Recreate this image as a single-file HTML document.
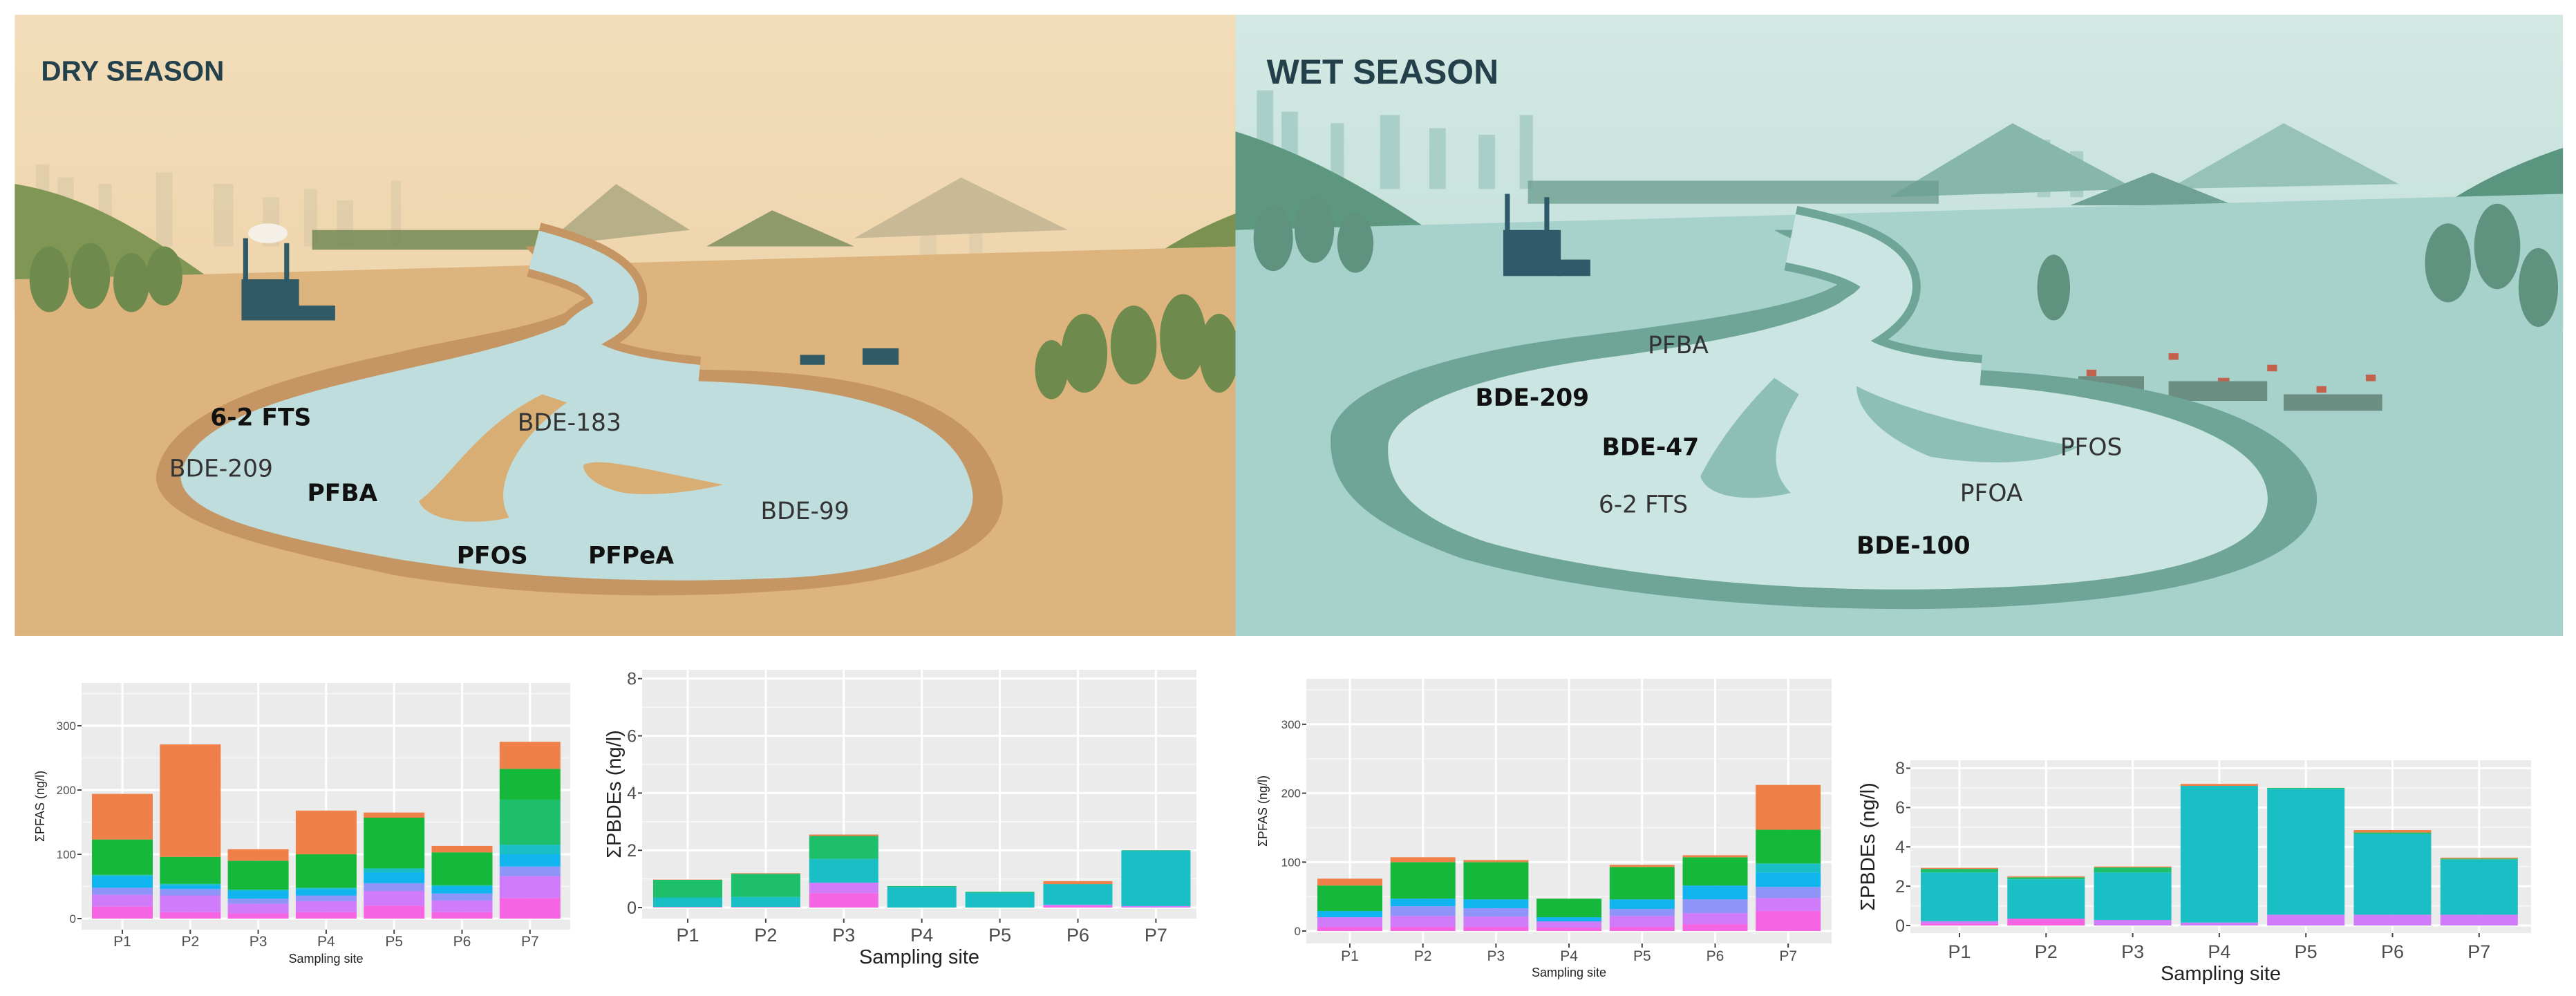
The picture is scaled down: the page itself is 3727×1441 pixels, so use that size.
<!DOCTYPE html>
<html><head><meta charset="utf-8">
<style>
html,body{margin:0;padding:0;background:#fff;}
svg{display:block;font-family:"Liberation Sans",sans-serif;}
</style></head>
<body>
<svg id="root" width="3727" height="1441" viewBox="0 0 3727 1441">
<defs>
<linearGradient id="drySky" x1="0" y1="0" x2="0" y2="1"><stop offset="0" stop-color="#F2DDBA"/><stop offset="1" stop-color="#E9CB9C"/></linearGradient>
<linearGradient id="wetSky" x1="0" y1="0" x2="0" y2="1"><stop offset="0" stop-color="#D3E8E3"/><stop offset="1" stop-color="#B4D8D2"/></linearGradient>
</defs>
<g transform="scale(2.377)">
 <!-- DRY PANEL -->
 <g>
  <rect x="9" y="9" width="743" height="378" fill="url(#drySky)"/>
  <g fill="#E0CDAA" opacity="0.9">
   <rect x="22" y="100" width="8" height="50"/><rect x="35" y="108" width="10" height="42"/><rect x="60" y="112" width="8" height="38"/><rect x="95" y="105" width="10" height="45"/><rect x="130" y="112" width="12" height="38"/><rect x="160" y="120" width="10" height="30"/><rect x="185" y="115" width="8" height="35"/><rect x="205" y="122" width="10" height="28"/><rect x="238" y="110" width="6" height="40"/><rect x="560" y="135" width="10" height="20"/><rect x="590" y="132" width="8" height="25"/>
  </g>
  <path d="M330,150 L375,112 L420,140 Z" fill="#B7AF88"/>
  <path d="M520,145 L585,108 L650,140 Z" fill="#C9B996"/>
  <path d="M430,150 L470,128 L520,150 Z" fill="#8E9A6A"/>
  <path d="M9,112 C60,120 100,150 140,178 L9,190 Z" fill="#7F9654"/>
  <path d="M752,130 C700,150 670,180 640,210 L752,240 Z" fill="#7A9152"/>
  <rect x="190" y="140" width="140" height="12" fill="#6D8650" opacity="0.8"/>
  <path d="M9,170 L752,150 L752,387 L9,387 Z" fill="#DDB47D"/>
  <g fill="#6E8A4C">
   <ellipse cx="30" cy="170" rx="12" ry="20"/><ellipse cx="55" cy="168" rx="12" ry="20"/><ellipse cx="80" cy="172" rx="11" ry="18"/><ellipse cx="100" cy="168" rx="11" ry="18"/>
   <ellipse cx="660" cy="215" rx="14" ry="24"/><ellipse cx="690" cy="210" rx="14" ry="24"/><ellipse cx="720" cy="205" rx="14" ry="26"/><ellipse cx="742" cy="215" rx="12" ry="24"/><ellipse cx="640" cy="225" rx="10" ry="18"/>
  </g>
  <g fill="#2F5A66">
   <rect x="147" y="170" width="35" height="25"/><rect x="148" y="145" width="3" height="28"/><rect x="173" y="148" width="3" height="25"/><rect x="180" y="186" width="24" height="9"/>
   <rect x="525" y="212" width="22" height="10"/><rect x="487" y="216" width="15" height="6"/>
  </g>
  <ellipse cx="163" cy="142" rx="12" ry="6" fill="#F4F0E8"/>
  <path d="M95,290 C100,250 170,230 240,215 C280,205 330,200 355,185 C370,175 330,165 320,150 L340,150 C375,165 390,180 370,195 C340,215 360,225 420,225 C520,225 600,240 610,300 C615,335 560,355 470,360 C380,366 300,360 240,350 C170,335 95,320 95,290 Z" fill="#C59663"/>
  <path d="M325,152 C375,165 392,182 362,198 C335,214 362,228 425,234" fill="none" stroke="#C59663" stroke-width="34"/>
  <path d="M110,290 C115,255 180,240 245,225 C290,215 335,205 358,190 C372,180 336,168 327,152 L338,152 C370,168 382,182 365,196 C340,212 365,230 425,232 C515,235 585,250 592,300 C595,330 545,350 470,352 C380,356 300,350 240,340 C175,328 110,315 110,290 Z" fill="#BEDDDC"/>
  <path d="M325,152 C375,165 392,182 362,198 C335,214 362,228 425,234" fill="none" stroke="#BEDDDC" stroke-width="24"/>
  <path d="M255,305 C275,290 290,260 330,240 L345,245 C310,270 300,300 310,315 C290,320 260,318 255,305 Z" fill="#D8AE75"/>
  <path d="M355,283 C365,278 390,285 440,295 C420,300 395,302 380,300 C365,297 355,290 355,283 Z" fill="#D8AE75"/>
  <text x="25" y="49" font-size="17" font-weight="bold" fill="#24414B">DRY SEASON</text>
  <g font-family="'DejaVu Sans',sans-serif" font-size="14.5" fill="#111">
   <text x="128" y="259" font-weight="bold">6-2 FTS</text>
   <text x="103" y="290" fill="#333">BDE-209</text>
   <text x="187" y="305" font-weight="bold">PFBA</text>
   <text x="315" y="262" fill="#333">BDE-183</text>
   <text x="278" y="343" font-weight="bold">PFOS</text>
   <text x="358" y="343" font-weight="bold">PFPeA</text>
   <text x="463" y="316" fill="#333">BDE-99</text>
  </g>
 </g>
 <!-- WET PANEL -->
 <g>
  <rect x="752" y="9" width="808" height="378" fill="url(#wetSky)"/>
  <g fill="#A9CFC8">
   <rect x="765" y="55" width="10" height="60"/><rect x="780" y="68" width="10" height="47"/><rect x="810" y="75" width="8" height="40"/><rect x="840" y="70" width="12" height="45"/><rect x="870" y="78" width="10" height="37"/><rect x="900" y="82" width="10" height="33"/><rect x="925" y="70" width="8" height="45"/><rect x="1210" y="88" width="10" height="30"/><rect x="1240" y="85" width="8" height="35"/><rect x="1260" y="92" width="8" height="28"/>
  </g>
  <path d="M1150,120 L1225,75 L1300,115 Z" fill="#87B7AB"/>
  <path d="M1320,115 L1390,75 L1460,112 Z" fill="#96C2B8"/>
  <path d="M1260,125 L1310,105 L1360,125 Z" fill="#6FA294"/>
  <path d="M752,80 C800,95 840,120 870,140 L752,160 Z" fill="#5E977F"/>
  <path d="M1560,90 C1500,110 1460,140 1440,170 L1560,200 Z" fill="#5A9580"/>
  <rect x="930" y="110" width="250" height="14" fill="#6D9F90" opacity="0.8"/>
  <path d="M752,140 L1560,118 L1560,387 L752,387 Z" fill="#A7D1CB"/>
  <g fill="#5F927F">
   <ellipse cx="775" cy="145" rx="12" ry="20"/><ellipse cx="800" cy="140" rx="12" ry="20"/><ellipse cx="825" cy="148" rx="11" ry="18"/>
   <ellipse cx="1250" cy="175" rx="10" ry="20"/><ellipse cx="1490" cy="160" rx="14" ry="24"/><ellipse cx="1520" cy="150" rx="14" ry="26"/><ellipse cx="1545" cy="175" rx="12" ry="24"/>
  </g>
  <g fill="#2E5A6A">
   <rect x="915" y="140" width="35" height="28"/><rect x="916" y="118" width="3" height="25"/><rect x="940" y="120" width="3" height="22"/><rect x="948" y="158" width="20" height="10"/>
  </g>
  <g fill="#C3624C"><rect x="1270" y="225" width="6" height="4"/><rect x="1320" y="215" width="6" height="4"/><rect x="1350" y="230" width="7" height="4"/><rect x="1380" y="222" width="6" height="4"/><rect x="1410" y="235" width="6" height="4"/><rect x="1440" y="228" width="6" height="4"/><rect x="1300" y="240" width="6" height="4"/></g>
  <g fill="#6C8E82"><rect x="1265" y="229" width="40" height="10"/><rect x="1320" y="232" width="60" height="12"/><rect x="1390" y="240" width="60" height="10"/></g>
  <path d="M810,265 C815,235 880,215 960,205 C1040,195 1110,185 1125,168 C1135,155 1095,150 1080,140 L1110,140 C1160,150 1170,170 1140,190 C1110,205 1120,220 1200,225 C1300,230 1400,250 1410,300 C1415,340 1340,365 1200,370 C1080,374 960,360 890,340 C835,320 808,300 810,265 Z" fill="#6EA597"/>
  <path d="M1090,145 C1155,158 1162,176 1132,194 C1105,212 1128,230 1205,236" fill="none" stroke="#6EA597" stroke-width="40"/>
  <path d="M845,270 C850,245 905,228 975,218 C1050,208 1115,195 1132,175 C1140,162 1105,152 1093,145 L1105,145 C1150,156 1155,172 1130,192 C1105,210 1125,228 1200,234 C1290,240 1375,262 1380,300 C1385,335 1320,355 1200,358 C1090,362 975,350 905,330 C860,315 843,295 845,270 Z" fill="#CBE6E2"/>
  <path d="M1090,145 C1155,158 1162,176 1132,194 C1105,212 1128,230 1205,236" fill="none" stroke="#CBE6E2" stroke-width="30"/>
  <path d="M1035,290 C1045,270 1060,250 1080,230 L1095,240 C1080,265 1075,285 1090,300 C1070,305 1040,305 1035,290 Z" fill="#8EBFB5"/>
  <path d="M1130,235 C1140,240 1170,255 1265,272 C1240,285 1200,282 1175,278 C1150,268 1130,252 1130,235 Z" fill="#8EBFB5"/>
  <text x="771" y="51" font-size="21" font-weight="bold" fill="#24414B">WET SEASON</text>
  <g font-family="'DejaVu Sans',sans-serif" font-size="14.5" fill="#111">
   <text x="1003" y="215" fill="#333">PFBA</text>
   <text x="898" y="247" font-weight="bold">BDE-209</text>
   <text x="975" y="277" font-weight="bold">BDE-47</text>
   <text x="1254" y="277" fill="#333">PFOS</text>
   <text x="973" y="312" fill="#333">6-2 FTS</text>
   <text x="1193" y="305" fill="#333">PFOA</text>
   <text x="1130" y="337" font-weight="bold">BDE-100</text>
  </g>
 </g>
</g>
<g id="charts"></g>
</svg>
<script>
// categories
const sites = ["P1","P2","P3","P4","P5","P6","P7"];
// PFAS series (stack bottom->top): pink, violet, periwinkle, blue, teal, seagreen, green, orange
const pfasColors = ["#F564E3","#CF7BFA","#8F94F8","#10B4EE","#19BFC4","#1DBF6A","#16B83C","#F08049"];
const dryPfas = [
 [19,10,8,10,20,10,32],
 [18,26,15,17,23,18,34],
 [11,10,8,9,12,11,15],
 [18,6,12,10,17,11,19],
 [2,2,2,2,6,2,15],
 [0,0,0,0,0,0,70],
 [55,42,45,52,79,51,48],
 [71,175,18,68,8,10,42]
];
const wetPfas = [
 [6,6,6,5,6,10,29],
 [14,16,15,9,16,16,19],
 [0,14,12,0,10,20,16],
 [9,11,13,6,14,20,21],
 [0,0,0,0,0,0,13],
 [0,0,0,0,0,0,0],
 [37,53,54,27,47,41,49],
 [10,7,3,0,3,3,65]
];
// PBDE series: pink, violet, teal, green, orange
const pbdeColors = ["#F564E3","#CF7BFA","#19BFC4","#1DBF6A","#F08049"];
const dryPbde = [
 [0.02,0.02,0.5,0,0,0.05,0],
 [0,0,0.37,0,0,0.05,0.05],
 [0.33,0.35,0.83,0.72,0.52,0.72,1.93],
 [0.62,0.81,0.8,0.03,0.03,0,0.02],
 [0.01,0.02,0.05,0,0,0.1,0]
];
const wetPbde = [
 [0.1,0.35,0,0,0,0,0],
 [0.12,0,0.28,0.15,0.55,0.55,0.55],
 [2.48,2.0,2.42,6.95,6.4,4.1,2.8],
 [0.18,0.1,0.25,0,0.05,0.08,0.05],
 [0.05,0.05,0.05,0.1,0,0.12,0.05]
];
const pfasTicks = [0,100,200,300];
const pbdeTicks = [0,2,4,6,8];

const NS = "http://www.w3.org/2000/svg";
const root = document.getElementById("charts");
function mk(tag, attrs, parent){const e=document.createElementNS(NS,tag);for(const k in attrs)e.setAttribute(k,attrs[k]);(parent||root).appendChild(e);return e;}

function chart(cfg){
  const g = mk("g",{});
  
  
  const yScale = v => cfg.zero - v*cfg.ppu;
  const xScale = i => cfg.c0 + i*cfg.step;
  const bg = mk("rect",{x:cfg.px,y:cfg.py,width:cfg.pw,height:cfg.ph,fill:"#EBEBEB"},g);
  
  
  for(let k=0;k<cfg.ticks.length;k++){
    const mv = cfg.ticks[k]+cfg.minor;
    const my = yScale(mv);
    if(my>cfg.py) mk("line",{x1:cfg.px,x2:cfg.px+cfg.pw,y1:my,y2:my,stroke:"#F6F6F6","stroke-width":cfg.gw*0.6},g);
  }
  cfg.ticks.forEach(t=>{
    const y=yScale(t);
    mk("line",{x1:cfg.px,x2:cfg.px+cfg.pw,y1:y,y2:y,stroke:"#fff","stroke-width":cfg.gw},g);
    mk("line",{x1:cfg.px-6,x2:cfg.px,y1:y,y2:y,stroke:"#444","stroke-width":2},g);
    const tl = mk("text",{x:cfg.px-8,y:y+cfg.tf*0.35,"font-size":cfg.tf,"text-anchor":"end",fill:"#4D4D4D"},g);
    tl.textContent=t;
    
    
  });
  sites.forEach((s,i)=>{
    const x=xScale(i);
    mk("line",{x1:x,x2:x,y1:cfg.py,y2:cfg.py+cfg.ph,stroke:"#fff","stroke-width":cfg.gw},g);
    mk("line",{x1:x,x2:x,y1:cfg.py+cfg.ph,y2:cfg.py+cfg.ph+6,stroke:"#444","stroke-width":2},g);
    const xl = mk("text",{x:x,y:cfg.lx,"font-size":cfg.xf,"text-anchor":"middle",fill:"#4D4D4D"},g);
    xl.textContent=s;
    
    
  });
  sites.forEach((s,i)=>{
    let acc=0;
    cfg.data.forEach((series,si)=>{
      const v=series[i];
      if(v<=0) return;
      const y0=yScale(acc), y1=yScale(acc+v);
      const r = mk("rect",{x:xScale(i)-cfg.bw/2,y:y1,width:cfg.bw,height:y0-y1,fill:cfg.colors[si]},g);
      
      
      acc+=v;
    });
  });
  const xt = mk("text",{x:cfg.px+cfg.pw/2,y:cfg.sx,"font-size":cfg.af,"text-anchor":"middle",fill:"#222"},g);
  xt.textContent="Sampling site";
  
  
  const ty=cfg.py+cfg.ph/2;
  const yt = mk("text",{x:cfg.yx,y:ty,"font-size":cfg.af,"text-anchor":"middle",fill:"#222",transform:`rotate(-90 ${cfg.yx} ${ty})`},g);
  yt.textContent=cfg.ytitle;
  
  
}

chart({name:"dry-pfas-chart",px:118,py:988,pw:707,ph:357,zero:1329,ppu:0.93,c0:177,step:98.3,bw:88,
  ticks:pfasTicks,minor:50,data:dryPfas,colors:pfasColors,tf:17,xf:21,af:18,lx:1369,sx:1393,yx:64,ytitle:"ΣPFAS (ng/l)",gw:3});
chart({name:"dry-pbde-chart",px:929,py:969,pw:802,ph:360,zero:1313,ppu:41.4,c0:995,step:112.9,bw:100,
  ticks:pbdeTicks,minor:1,data:dryPbde,colors:pbdeColors,tf:25,xf:27,af:29,lx:1362,sx:1394,yx:898,ytitle:"ΣPBDEs (ng/l)",gw:3});
chart({name:"wet-pfas-chart",px:1890,py:982,pw:760,ph:383,zero:1347,ppu:0.997,c0:1953,step:105.7,bw:94,
  ticks:pfasTicks,minor:50,data:wetPfas,colors:pfasColors,tf:17,xf:21,af:18,lx:1390,sx:1413,yx:1833,ytitle:"ΣPFAS (ng/l)",gw:3});
chart({name:"wet-pbde-chart",px:2764,py:1100,pw:898,ph:250,zero:1339,ppu:28.45,c0:2835,step:125.3,bw:112,
  ticks:pbdeTicks,minor:1,data:wetPbde,colors:pbdeColors,tf:25,xf:27,af:29,lx:1386,sx:1418,yx:2712,ytitle:"ΣPBDEs (ng/l)",gw:3});
</script>
</body></html>
